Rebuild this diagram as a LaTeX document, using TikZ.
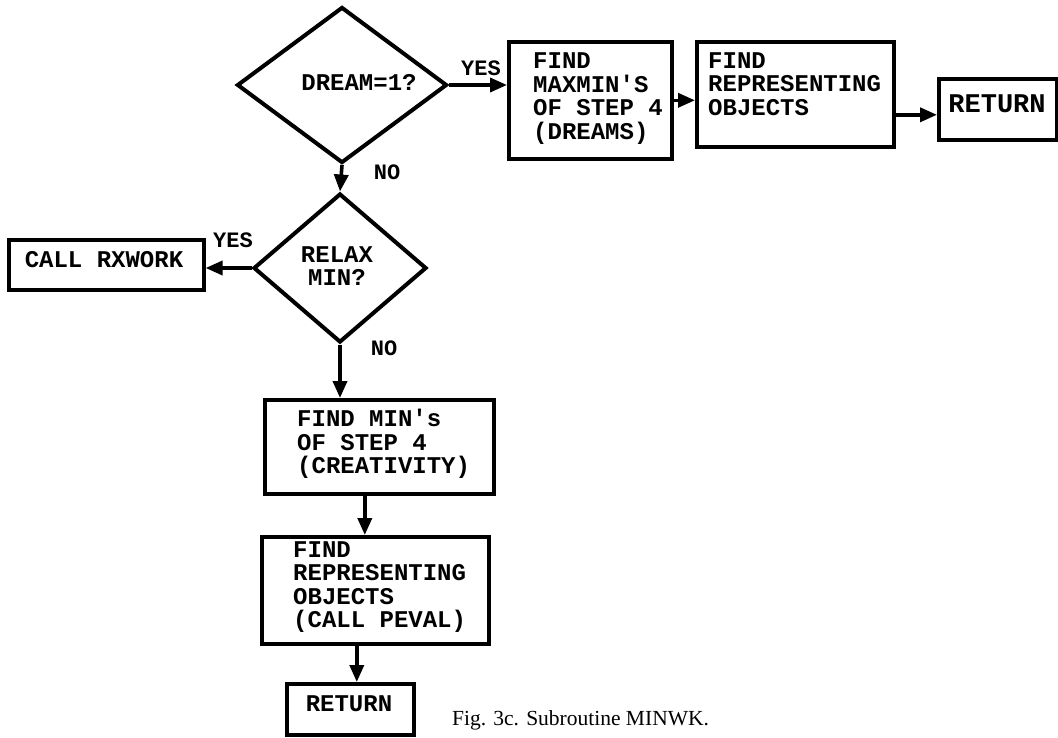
\documentclass[tikz,border=0pt]{standalone}
\usepackage{fontspec}
\setmainfont{Liberation Serif}
\setmonofont{Liberation Mono}
\usetikzlibrary{arrows.meta,shapes.geometric,calc}
\begin{document}
\begin{tikzpicture}[x=1pt,y=-1pt,
  box/.style={draw,line width=3.6pt,inner sep=0pt,anchor=north west},
  dia/.style={draw,diamond,line width=4pt,inner sep=0pt},
  txt/.style={inner sep=0pt,align=left,font=\ttfamily\bfseries\fontsize{24}{23.5}\selectfont},
  lbl/.style={inner sep=0pt,font=\ttfamily\bfseries\fontsize{22}{22}\selectfont},
  arr/.style={line width=3.6pt,-{Triangle[length=17pt,width=14pt]}}]
\useasboundingbox (0,0) rectangle (1058,737);
% decisions
\node[dia,minimum width=210pt,minimum height=156pt] (d1) at (342,85) {};
\node[txt] (d1t) at (359,82) {DREAM=1?};
\node[dia,minimum width=173pt,minimum height=149pt] (d2) at (340,268) {};
\node[txt,align=center] (d2t) at (337,266) {RELAX\\MIN?};
% boxes
\node[box,minimum width=163pt,minimum height=117pt] (b1) at (507,40) {};
\node[txt,anchor=west] (b1t) at (533,98.5) {FIND\\MAXMIN'S\\OF STEP 4\\(DREAMS)};
\node[box,minimum width=197pt,minimum height=105pt] (b2) at (695,40) {};
\node[txt,anchor=west] (b2t) at (708,84) {FIND\\REPRESENTING\\OBJECTS};
\node[box,minimum width=118pt,minimum height=61pt] (b3) at (937,77) {};
\node[txt,font=\ttfamily\bfseries\fontsize{27}{27}\selectfont] (b3t) at (997,104) {RETURN};
\node[box,minimum width=195pt,minimum height=50pt] (bc) at (7,238) {};
\node[txt] (bct) at (104,260) {CALL RXWORK};
\node[box,minimum width=229pt,minimum height=94pt] (b4) at (263,398) {};
\node[txt,anchor=west] (b4t) at (297,444) {FIND MIN's\\OF STEP 4\\(CREATIVITY)};
\node[box,minimum width=227pt,minimum height=107pt] (b5) at (260,535) {};
\node[txt,anchor=west] (b5t) at (293,587) {FIND\\REPRESENTING\\OBJECTS\\(CALL PEVAL)};
\node[box,minimum width=127pt,minimum height=51pt] (b6) at (285,682) {};
\node[txt] (b6t) at (349,704) {RETURN};
% labels
\node[lbl] (y1) at (481,68) {YES};
\node[lbl] (n1) at (387,172) {NO};
\node[lbl] (y2) at (233,240) {YES};
\node[lbl] (n2) at (384,348) {NO};
% connectors
\coordinate (c23) at ($(b2.east)+(0,20.5)$);
\coordinate (c45) at ($(b4.south)+(-14.5,0)$);
\coordinate (c56) at ($(b5.south)+(-18.5,0)$);
\draw[arr] (d1.east) -- (d1.east -| b1.west);
\draw[arr] (b1.east) -- (b1.east -| b2.west);
\draw[arr] (c23) -- (c23 -| b3.west);
\draw[arr] (d1.south) -- (d2.north);
\draw[arr] (d2.west) -- (d2.west -| bc.east);
\draw[arr] (d2.south) -- (d2.south |- b4.north);
\draw[arr] (c45) -- (c45 |- b5.north);
\draw[arr] (c56) -- (c56 |- b6.north);
% caption
\node[anchor=base west,inner sep=0pt,font=\fontsize{21.5}{24}\selectfont] (cap) at (452,725) {Fig. 3c. Subroutine MINWK.};
\end{tikzpicture}
\end{document}
